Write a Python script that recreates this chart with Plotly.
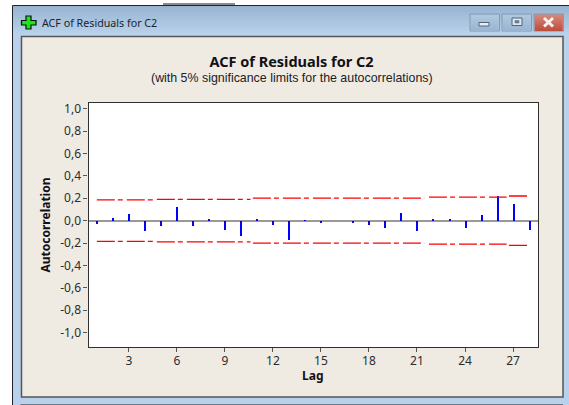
import plotly.graph_objects as go

W, H = 569, 405
lags = list(range(1, 29))
acf = [-0.03, 0.02, 0.06, -0.09, -0.05, 0.12, -0.05, 0.01, -0.08, -0.135, 0.01, -0.04, -0.175, 0.003,
       -0.025, 0.0, -0.025, -0.04, -0.065, 0.07, -0.09, 0.015, 0.015, -0.065, 0.05, 0.22, 0.145, -0.085]
limit_x = [1, 4.55, None, 4.75, 10.6, None, 10.75, 21.45, None, 21.75, 26.6, None, 26.75, 28]
limit_hi = [0.185, 0.185, None, 0.19, 0.19, None, 0.2, 0.2, None, 0.21, 0.21, None, 0.22, 0.22]
limit_lo = [None if v is None else -v for v in limit_hi]
x_ticks = [3, 6, 9, 12, 15, 18, 21, 24, 27]
y_ticks = [1.0, 0.8, 0.6, 0.4, 0.2, 0.0, -0.2, -0.4, -0.6, -0.8, -1.0]
y_labels = ["1,0", "0,8", "0,6", "0,4", "0,2", "0,0", "-0,2", "-0,4", "-0,6", "-0,8", "-1,0"]

UI = "Noto Sans"
INK = "#2b2b33"
BEIGE = "#efebe2"


def px(x):
    return x / W


def py(y):
    return 1 - y / H


def rect(x0, y0, x1, y1, fill, line=None, lw=1):
    return dict(type="rect", xref="paper", yref="paper", layer="below",
                x0=px(x0), x1=px(x1), y0=py(y0), y1=py(y1), fillcolor=fill,
                line=dict(color=line or fill, width=lw if line else 0))


def lerp(a, b, t):
    return "#" + "".join(f"{round(a[i] + (b[i] - a[i]) * t):02x}" for i in range(3))


def hexc(c):
    return lerp(c, c, 0)


shapes = []
# window body
shapes.append(rect(12.5, 5.5, 569, 405, "#b9d1ea", "#202428", 1))
# title bar gradient
for r in range(6, 36):
    shapes.append(rect(13, r, 569, r + 1, lerp((0x98, 0xb4, 0xd0), (0xbb, 0xd4, 0xee), (r - 6) / 30)))
# side and bottom blue border
shapes.append(rect(13, 36, 20.5, 405, "#b9d1ea"))
shapes.append(rect(563, 36, 569, 405, "#b9d1ea"))
# inner beige client area with dark frame
shapes.append(rect(21.5, 36.5, 563, 397, BEIGE, "#55565a", 1.5))
shapes.append(rect(23, 38, 562, 396, BEIGE))
# plot background
shapes.append(rect(88.5, 103, 538, 347, "#ffffff"))
# top strip
shapes.append(rect(163, 3, 235, 5, "#8a8a8a"))


def button(x0, x1, c0, c1):
    shapes.append(rect(x0, 14, x1, 31, hexc(c0), "#7f9ab6", 1))
    for r in range(15, 31):
        shapes.append(rect(x0 + 1, r, x1 - 1, r + 1, lerp(c0, c1, (r - 15) / 16)))


button(470, 499.5, (0xb0, 0xc7, 0xdf), (0x98, 0xb4, 0xd0))
button(502, 531.5, (0xb0, 0xc7, 0xdf), (0x98, 0xb4, 0xd0))
button(534, 563.5, (0xd6, 0x86, 0x78), (0xbb, 0x4a, 0x3a))
shapes.append(rect(479, 22.5, 489, 26, "#e8edf2", "#51647a", 1))
shapes.append(rect(512, 18, 522, 25.5, "#dfe6ee", "#51647a", 1))
shapes.append(rect(515, 20.5, 519, 23, "#6f86a0", "#51647a", 0.5))
for a, b in ((544, 553), (553, 544)):
    shapes.append(dict(type="line", xref="paper", yref="paper", layer="below",
                       x0=px(a), x1=px(b), y0=py(18), y1=py(26.5), line=dict(color="#f4f1ee", width=3)))
# green plus icon
plus = [(26, 16), (31, 16), (31, 20.5), (36, 20.5), (36, 25), (31, 25), (31, 29), (26, 29),
        (26, 25), (21.5, 25), (21.5, 20.5), (26, 20.5)]
path = "M " + " L ".join(f"{px(a):.5f},{py(b):.5f}" for a, b in plus) + " Z"
shapes.append(dict(type="path", xref="paper", yref="paper", layer="below", path=path,
                   fillcolor="#19e619", line=dict(color="#101010", width=1.2)))

fig = go.Figure()
fig.add_trace(go.Bar(x=lags, y=acf, width=0.125, marker=dict(color="#0000ff", line=dict(width=0)), showlegend=False))
for vals in (limit_hi, limit_lo):
    fig.add_trace(go.Scatter(x=limit_x, y=vals, mode="lines", showlegend=False,
                             line=dict(color="#ff0000", width=1.3, dash="18px,3px,5px,4px")))

fig.update_layout(
    width=W, height=H, margin=dict(l=0, r=0, t=0, b=0, autoexpand=False),
    paper_bgcolor="#ffffff", plot_bgcolor="rgba(0,0,0,0)", shapes=shapes, showlegend=False, bargap=0,
    title=dict(text="<b>ACF of Residuals for C2</b>", x=px(291.5), xref="paper", xanchor="center",
               y=py(62), yref="paper", yanchor="middle",
               font=dict(family=UI, size=14.5, color="#101018")),
    annotations=[
        dict(text="(with 5% significance limits for the autocorrelations)", xref="paper", yref="paper",
             x=px(291.5), y=py(78), xanchor="center", yanchor="middle", showarrow=False,
             font=dict(family="Liberation Sans", size=12.4, color="#202028")),
        dict(text="ACF of Residuals for C2", xref="paper", yref="paper", x=px(39.5), y=py(23),
             xanchor="left", yanchor="middle", showarrow=False,
             font=dict(family=UI, size=10.7, color="#20242a")),
        dict(text="<b>Lag</b>", xref="paper", yref="paper", x=px(312), y=py(375.5),
             xanchor="center", yanchor="middle", showarrow=False,
             font=dict(family=UI, size=12, color="#101018")),
    ],
    xaxis=dict(domain=[px(88.5), px(538)], range=[0.48, 28.56], tickvals=x_ticks, ticks="outside", ticklen=4,
               tickcolor="#555", tickwidth=1, showgrid=False, zeroline=False, showline=True, linecolor="#303030",
               linewidth=1.2, mirror=True, tickfont=dict(family=UI, size=12, color=INK), ticklabelstandoff=-2),
    yaxis=dict(domain=[py(347), py(103)], range=[-1.128, 1.05], tickvals=y_ticks, ticktext=y_labels,
               ticks="outside", ticklen=4, tickcolor="#555", tickwidth=1, showgrid=False, zeroline=True,
               zerolinecolor="#999999", zerolinewidth=2, showline=True, linecolor="#303030", linewidth=1.2,
               mirror=True, tickfont=dict(family=UI, size=12, color=INK),
               title=dict(text="<b>Autocorrelation</b>", standoff=6, font=dict(family=UI, size=12, color="#101018"))),
)
fig.write_html("out.html", config=dict(displayModeBar=False),
               post_script="document.body.style.margin='0';document.body.style.overflow='hidden';")
